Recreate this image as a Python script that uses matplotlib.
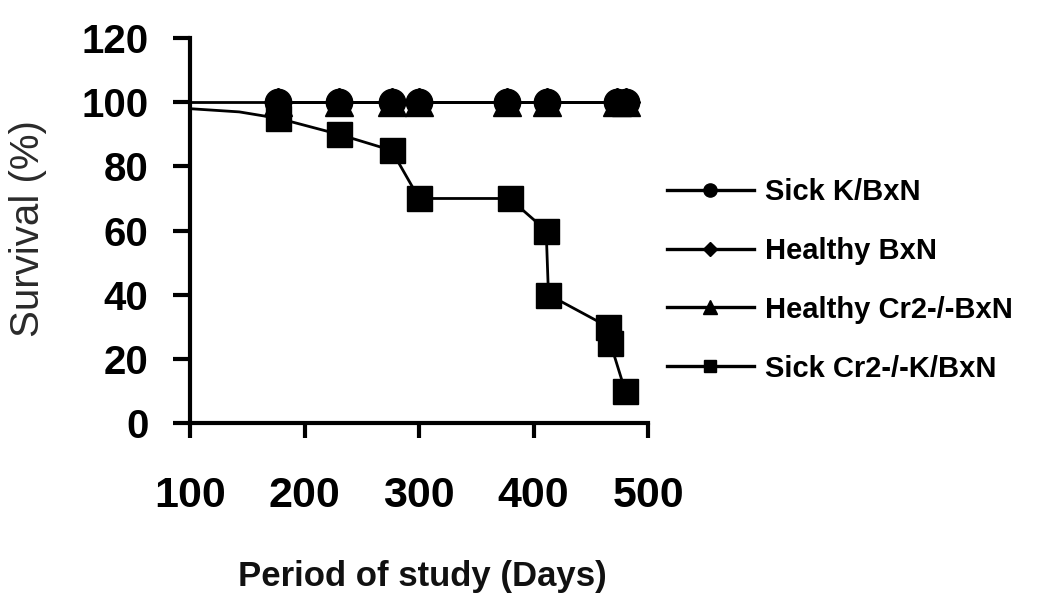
import matplotlib
matplotlib.use("Agg")
from matplotlib import pyplot as plt

plt.rcParams['font.family'] = ['Liberation Sans', 'DejaVu Sans']

days_sick = [177, 230, 276, 300, 377, 412, 473, 481]
surv_sick = [100, 100, 100, 100, 100, 100, 100, 100]

days_healthy = [177, 230, 276, 300, 377, 412, 473, 481]
surv_healthy = [100, 100, 100, 100, 100, 100, 100, 100]

days_healthy_cr2 = [100, 177, 230, 276, 300, 377, 412, 473, 481]
surv_healthy_cr2 = [100, 100, 100, 100, 100, 100, 100, 100, 100]

days_sick_cr2 = [100, 143, 177, 230, 276, 300, 379, 411, 413, 465, 467, 480]
surv_sick_cr2 = [98, 97, 95, 90, 85, 70, 70, 60, 40, 30, 25, 10]

x_ticks = [100, 200, 300, 400, 500]
y_ticks = [0, 20, 40, 60, 80, 100, 120]

fig = plt.figure(figsize=(10.47, 5.93), dpi=100)
ax = fig.add_axes([0.1815, 0.2867, 0.4375, 0.649])

lw = 2
ax.plot(days_sick_cr2, surv_sick_cr2, color='black', lw=lw, marker='s', markersize=18,
        markevery=list(range(2, len(days_sick_cr2))), label='Sick Cr2-/-K/BxN', zorder=3)
ax.plot(days_healthy_cr2, surv_healthy_cr2, color='black', lw=lw, marker='^', markersize=20,
        markevery=list(range(1, len(days_healthy_cr2))), label='Healthy Cr2-/-BxN', zorder=4)
ax.plot(days_healthy, surv_healthy, color='black', lw=lw, marker='D', markersize=14,
        label='Healthy BxN', zorder=4)
ax.plot(days_sick, surv_sick, color='black', lw=lw, marker='o', markersize=19,
        label='Sick K/BxN', zorder=5)

ax.set_xlim(100, 500)
ax.set_ylim(0, 120)
ax.set_xticks(x_ticks)
ax.set_yticks(y_ticks)

for s in ['top', 'right']:
    ax.spines[s].set_visible(False)
for s in ['left', 'bottom']:
    ax.spines[s].set_linewidth(3)
ax.tick_params(axis='y', direction='out', length=12, width=3, pad=18, labelsize=29)
ax.tick_params(axis='x', direction='out', length=11, width=3, pad=27, labelsize=31)
for lab in ax.get_xticklabels() + ax.get_yticklabels():
    lab.set_fontweight('bold')

fig.text(0.403, 0.012, 'Period of study (Days)', fontsize=25, fontweight='bold',
         ha='center', va='baseline', color='#111111')
fig.text(0.027, 0.614, 'Survival (%)', fontsize=29, rotation=90,
         ha='center', va='center', color='#2a2a2a')

h, l = ax.get_legend_handles_labels()
order = [3, 2, 1, 0]
leg = ax.legend([h[i] for i in order], [l[i] for i in order],
                loc='center left', bbox_to_anchor=(0.985, 0.371), frameon=False,
                markerscale=0.5, handlelength=2.95, handletextpad=0.4,
                labelspacing=1.06, prop={'weight': 'bold', 'size': 21})
for line in leg.get_lines():
    line.set_linewidth(2.4)

fig.savefig('out.png', dpi=100)
